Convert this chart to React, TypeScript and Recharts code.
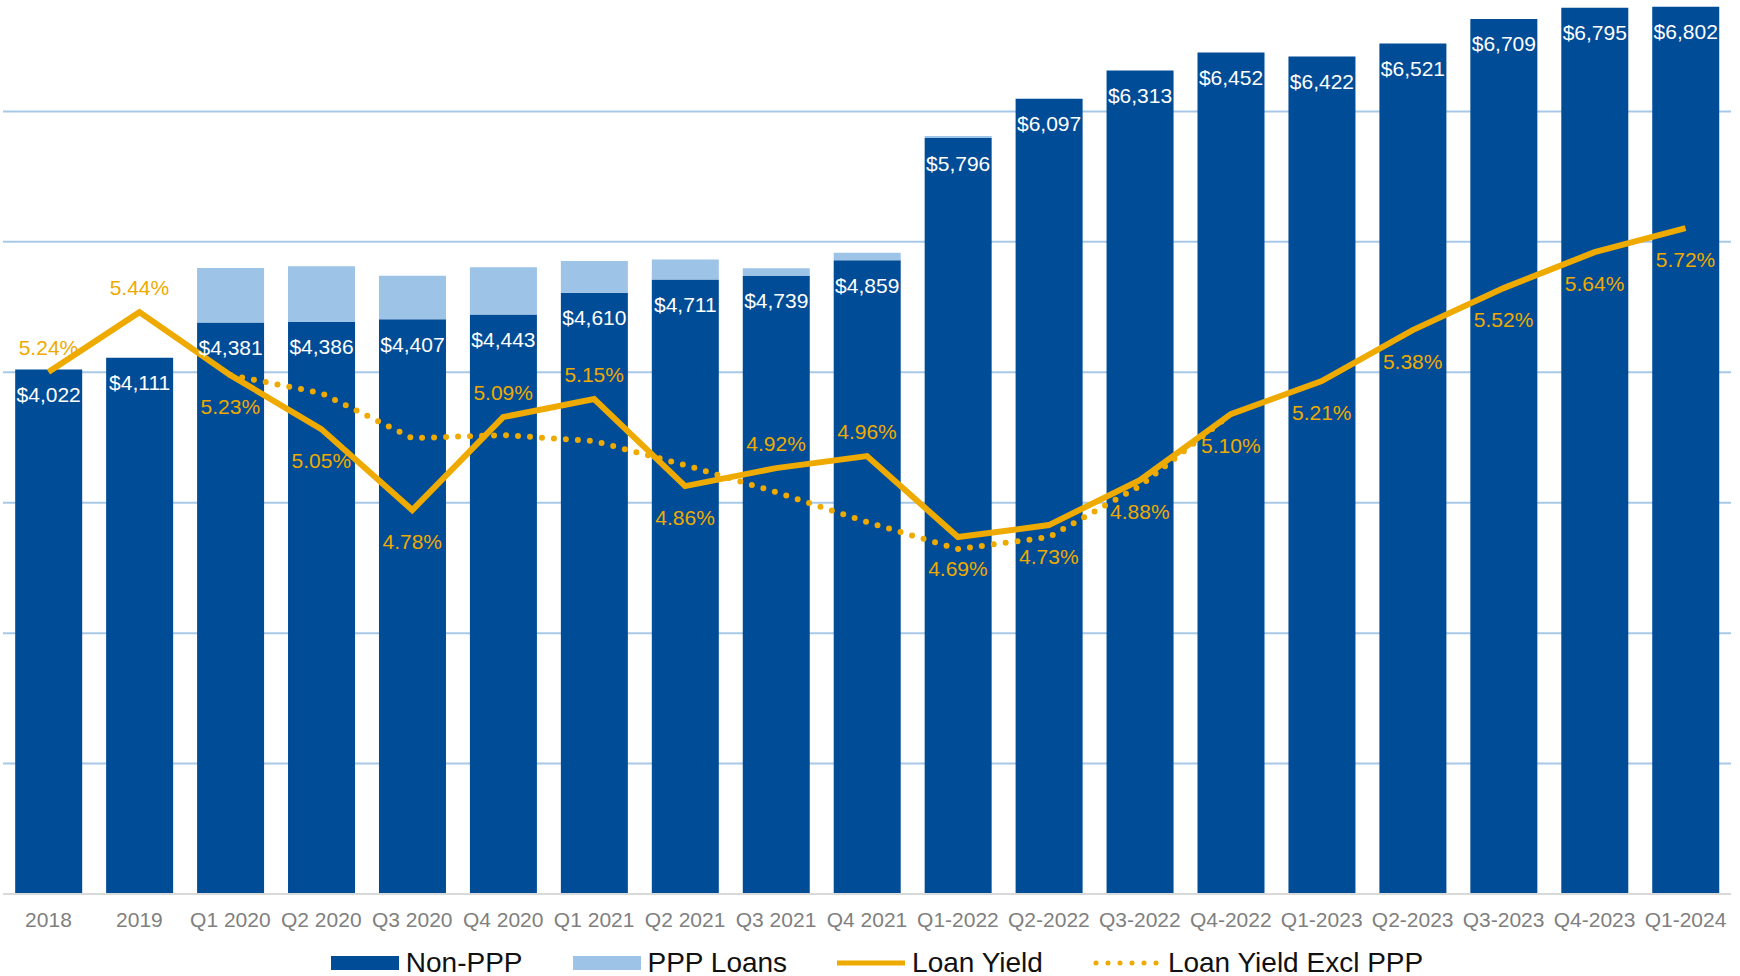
import {
  ComposedChart,
  Bar,
  Line,
  XAxis,
  YAxis,
  CartesianGrid,
  LabelList,
} from "recharts";

const categories = [
  "2018", "2019", "Q1 2020", "Q2 2020", "Q3 2020", "Q4 2020", "Q1 2021",
  "Q2 2021", "Q3 2021", "Q4 2021", "Q1-2022", "Q2-2022", "Q3-2022",
  "Q4-2022", "Q1-2023", "Q2-2023", "Q3-2023", "Q4-2023", "Q1-2024",
];

// loan balances, $ millions
const nonPpp = [
  4022, 4111, 4381, 4386, 4407, 4443, 4610, 4711, 4739, 4859, 5796, 6097,
  6313, 6452, 6422, 6521, 6709, 6795, 6802,
];
const pppLoans = [0, 0, 418, 427, 333, 362, 243, 153, 59, 58, 15, 0, 0, 0, 0, 0, 0, 0, 0];

// yields, %
const loanYield = [
  5.24, 5.44, 5.23, 5.05, 4.78, 5.09, 5.15, 4.86, 4.92, 4.96, 4.69, 4.73,
  4.88, 5.1, 5.21, 5.38, 5.52, 5.64, 5.72,
];
const yieldExclPpp = [
  null, null, 5.23, 5.17, 5.02, 5.03, 5.01, 4.93, 4.84, 4.74, 4.65, 4.69,
  4.86, 5.1, null, null, null, null, null,
];

const amountTicks = [0, 1000, 2000, 3000, 4000, 5000, 6000, 7000];

// yield labels that sit above the line instead of below
const labelAbove = ["2018", "2019", "Q4 2020", "Q1 2021", "Q3 2021", "Q4 2021"];

const data = categories.map((name, i) => ({
  name,
  nonPpp: nonPpp[i],
  ppp: pppLoans[i],
  yield: loanYield[i],
  exPpp: yieldExclPpp[i],
}));

const NAVY = "#004C97";
const LIGHT = "#9DC3E6";
const GOLD = "#EFAA00";
const FONT = "'Liberation Sans', Arial, sans-serif";

const BarValue = (props: any) => {
  const { x, y, width, value } = props;
  return (
    <text
      x={x + width / 2}
      y={y + 25}
      textAnchor="middle"
      dominantBaseline="central"
      fill="#fff"
      fontSize={21}
      fontFamily={FONT}
    >
      ${Number(value).toLocaleString("en-US")}
    </text>
  );
};

const YieldValue = (props: any) => {
  const { x, y, value, index } = props;
  const above = labelAbove.includes(categories[index]);
  return (
    <text
      x={x}
      y={above ? y - 25 : y + 31}
      textAnchor="middle"
      dominantBaseline="central"
      fill={GOLD}
      fontSize={21}
      fontFamily={FONT}
    >
      {Number(value).toFixed(2)}%
    </text>
  );
};

const legendItems = [
  { label: "Non-PPP", kind: "rect", color: NAVY },
  { label: "PPP Loans", kind: "rect", color: LIGHT },
  { label: "Loan Yield", kind: "line", color: GOLD },
  { label: "Loan Yield Excl PPP", kind: "dots", color: GOLD },
];

const LegendIcon = ({ kind, color }: { kind: string; color: string }) => (
  <svg width={68} height={16} style={{ marginRight: 7 }}>
    {kind === "rect" && <rect x={0} y={1} width={68} height={14} fill={color} />}
    {kind === "line" && (
      <line x1={0} y1={8} x2={68} y2={8} stroke={color} strokeWidth={5} />
    )}
    {kind === "dots" && (
      <line
        x1={3}
        y1={8}
        x2={66}
        y2={8}
        stroke={color}
        strokeWidth={5}
        strokeDasharray="0 12"
        strokeLinecap="round"
      />
    )}
  </svg>
);

export default function App() {
  return (
    <div
      style={{
        position: "absolute",
        left: 0,
        top: 0,
        width: 1740,
        height: 976,
        background: "#fff",
        fontFamily: FONT,
      }}
    >
      <ComposedChart
        width={1740}
        height={940}
        data={data}
        // the plot runs a little past the top edge, as in the original slide
        margin={{ top: -19, right: 9, left: 3, bottom: 0 }}
        barCategoryGap="13.4%"
      >
        <CartesianGrid
          yAxisId="amt"
          vertical={false}
          stroke="#A8C8E8"
          strokeWidth={2}
        />
        <XAxis
          dataKey="name"
          interval={0}
          tickLine={false}
          tickMargin={12}
          height={46}
          axisLine={{ stroke: "#D9D9D9", strokeWidth: 2 }}
          tick={{ fill: "#7F7F7F", fontSize: 21, fontFamily: FONT }}
        />
        <YAxis yAxisId="amt" hide domain={[0, 7000]} ticks={amountTicks} />
        <YAxis yAxisId="pct" hide orientation="right" domain={[3.5, 6.544]} />
        <Bar
          yAxisId="amt"
          dataKey="nonPpp"
          stackId="loans"
          fill={NAVY}
          isAnimationActive={false}
        >
          <LabelList dataKey="nonPpp" content={<BarValue />} />
        </Bar>
        <Bar
          yAxisId="amt"
          dataKey="ppp"
          stackId="loans"
          fill={LIGHT}
          isAnimationActive={false}
        />
        <Line
          yAxisId="pct"
          dataKey="exPpp"
          stroke={GOLD}
          strokeWidth={6}
          strokeDasharray="0 12"
          strokeLinecap="round"
          dot={false}
          activeDot={false}
          isAnimationActive={false}
        />
        <Line
          yAxisId="pct"
          dataKey="yield"
          stroke={GOLD}
          strokeWidth={6}
          strokeLinejoin="miter"
          dot={false}
          activeDot={false}
          isAnimationActive={false}
        >
          <LabelList dataKey="yield" content={<YieldValue />} />
        </Line>
      </ComposedChart>
      <div
        style={{
          position: "absolute",
          left: 0,
          top: 947,
          width: 1740,
          display: "flex",
          justifyContent: "center",
          gap: 50,
          marginLeft: 7,
        }}
      >
        {legendItems.map((item) => (
          <div key={item.label} style={{ display: "flex", alignItems: "center" }}>
            <LegendIcon kind={item.kind} color={item.color} />
            <span style={{ fontSize: 28, color: "#111", lineHeight: "32px" }}>
              {item.label}
            </span>
          </div>
        ))}
      </div>
    </div>
  );
}
